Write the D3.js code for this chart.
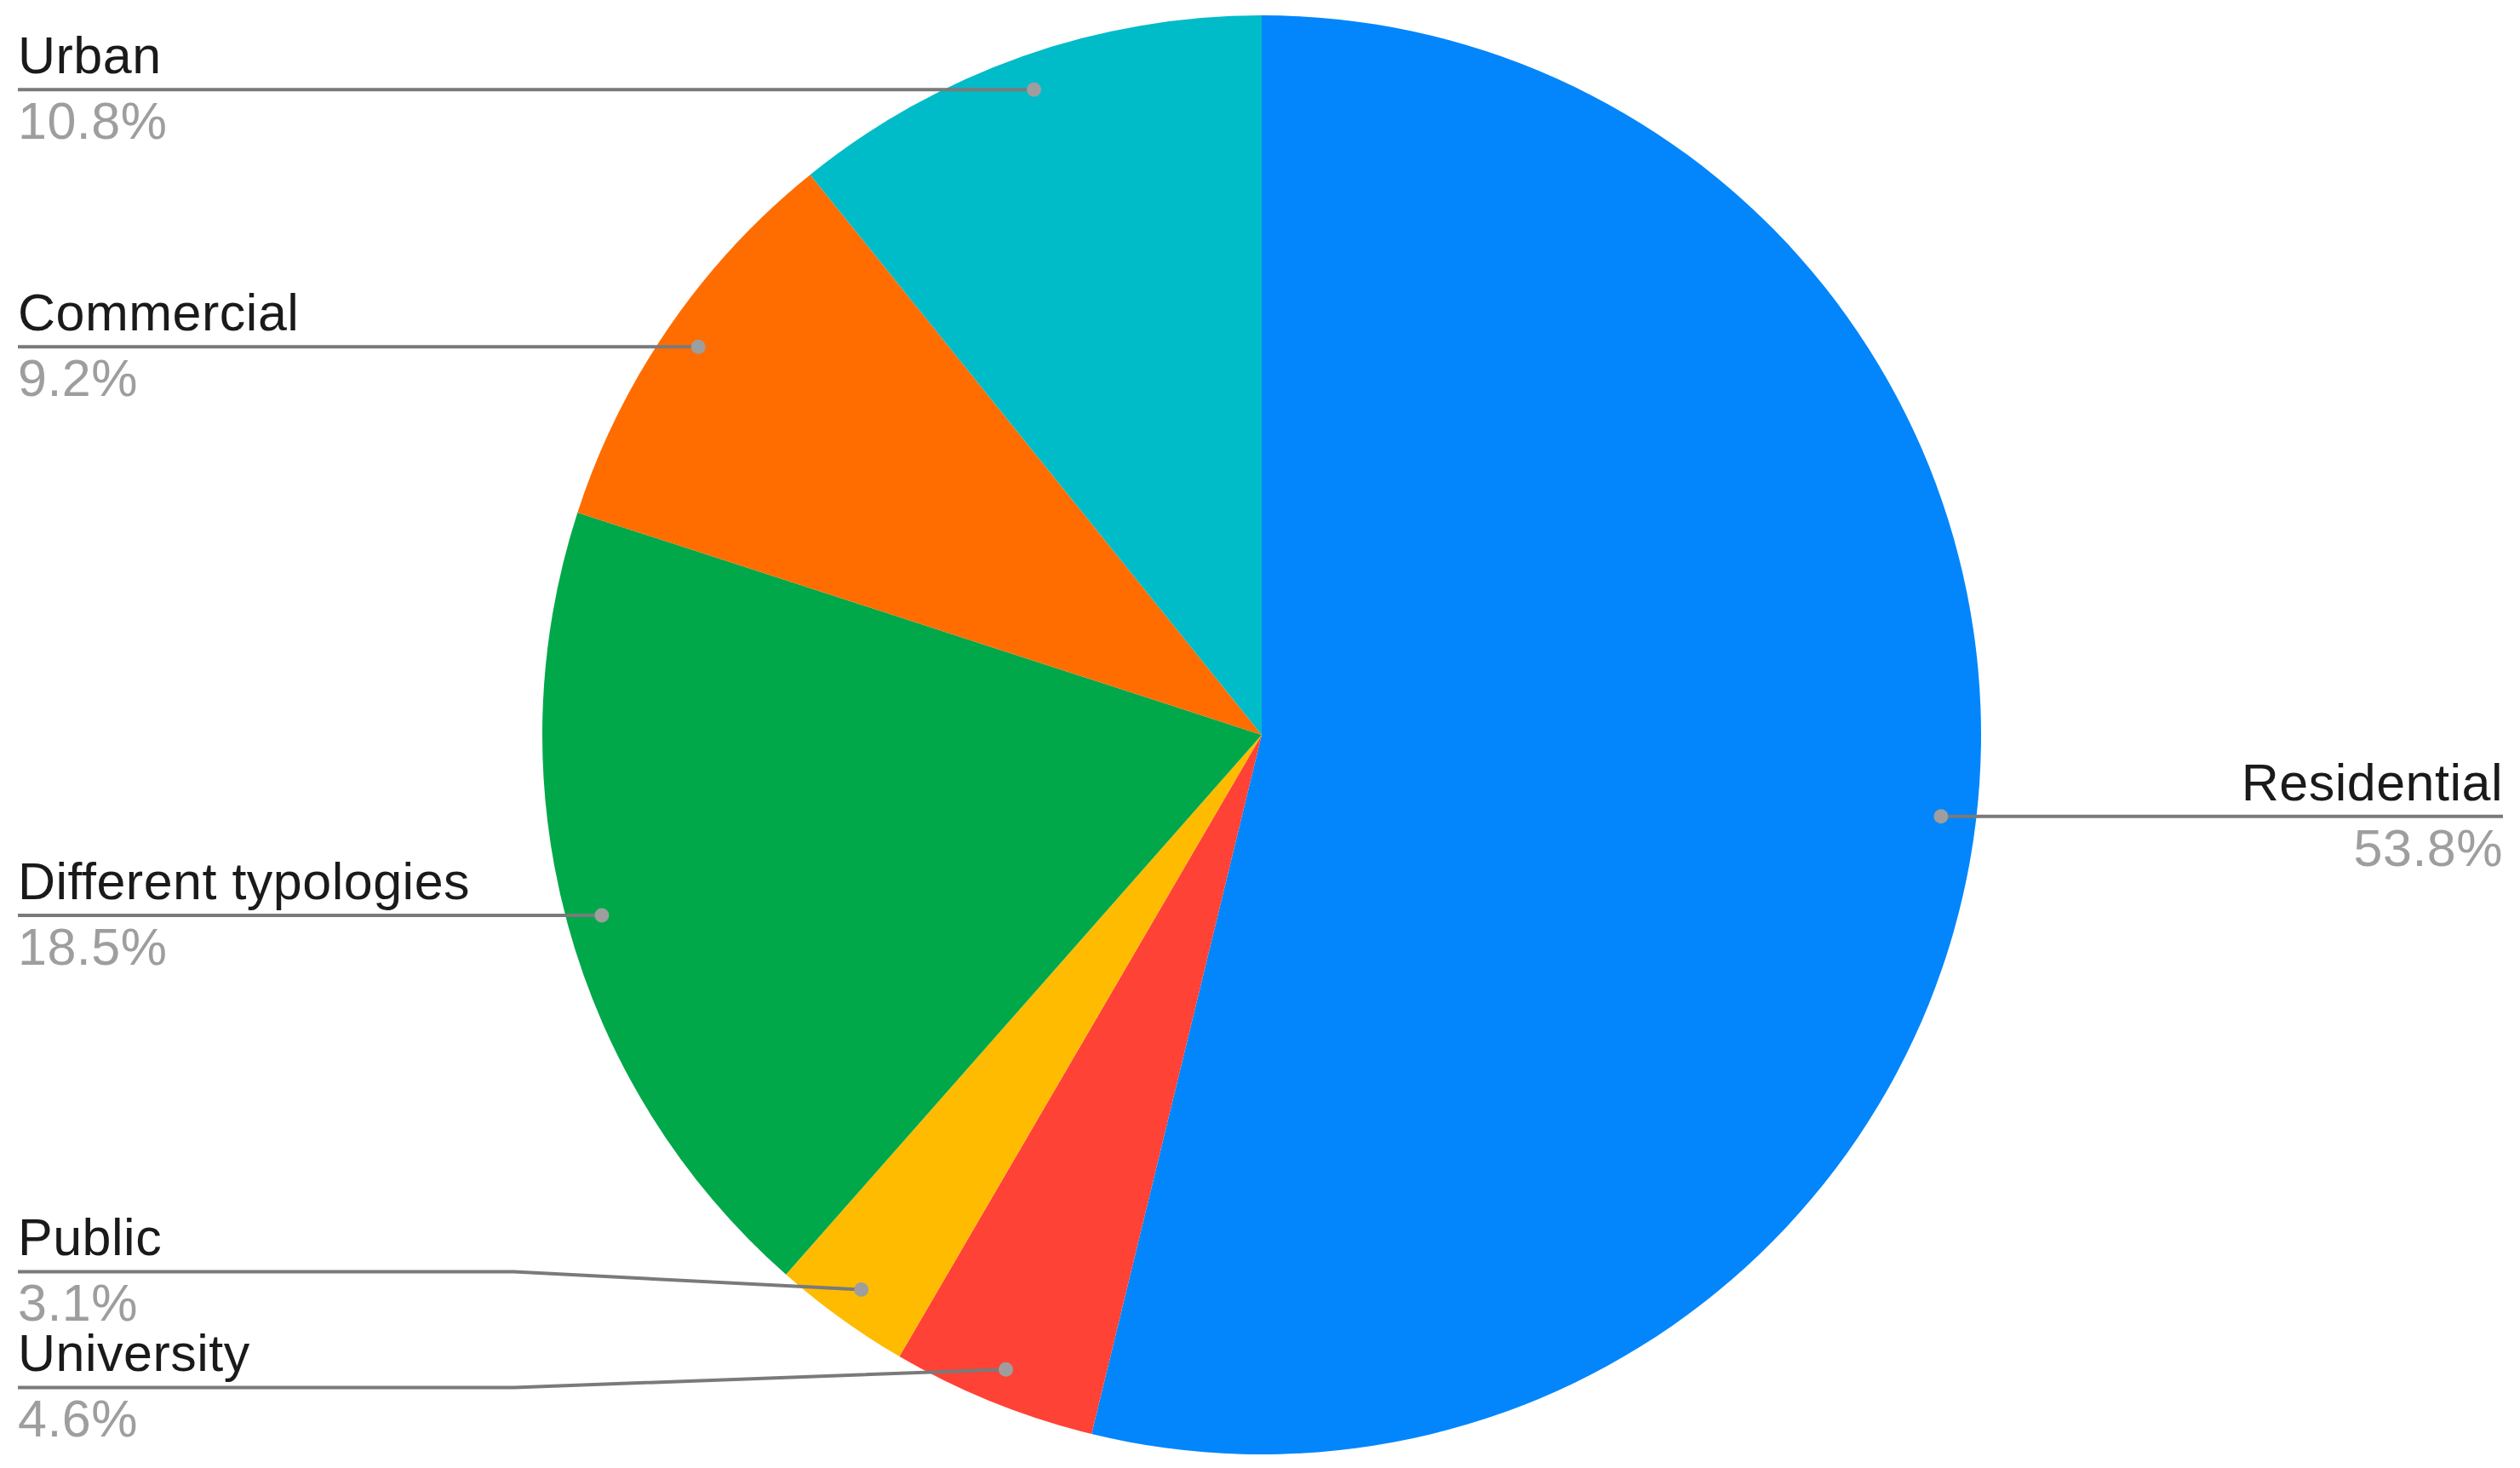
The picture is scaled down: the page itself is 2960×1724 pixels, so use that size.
<!DOCTYPE html>
<html lang="en">
<head>
    <meta charset="UTF-8">
    <title>Typologies pie</title>
    <script src="https://d3js.org/d3.v7.min.js"></script>
    <style>
        body {
            margin: 0;
            padding: 0;
            background-color: white;
        }
        svg {
            display: block;
        }
        .label-name {
            font-family: 'Liberation Sans', Arial, sans-serif;
            fill: #1a1a1a;
            letter-spacing: 0.5px;
        }
        .label-pct {
            font-family: 'Liberation Sans', Arial, sans-serif;
            fill: #9e9e9e;
            letter-spacing: 0.5px;
        }
    </style>
</head>
<body>
    <div id="chart"></div>

    <script type="text/javascript">
        // data, in clockwise order from 12 o'clock
        const categories = ["Residential", "University", "Public", "Different typologies", "Commercial", "Urban"];
        const shares = [53.8, 4.6, 3.1, 18.5, 9.2, 10.8];
        const colors = ["#0386fb", "#ff4236", "#ffbb00", "#00a84a", "#ff6d00", "#00bbc8"];

        const width = 2960;
        const height = 1724;
        const cx = 1482, cy = 863;
        const radius = 845;
        const fontSize = 61;
        const minGap = 136;   // vertical room one label block needs
        const leftX = 21, rightX = 2940, bendX = 604;

        const svg = d3.select("#chart").append("svg")
            .attr("width", width)
            .attr("height", height);

        const pie = d3.pie().sort(null).value(d => d.value);
        const arcs = pie(categories.map((c, i) => ({ name: c, value: shares[i], color: colors[i] })));

        const arc = d3.arc().innerRadius(0).outerRadius(radius);

        const g = svg.append("g").attr("transform", `translate(${cx},${cy})`);

        g.selectAll("path.slice")
            .data(arcs)
            .join("path")
            .attr("class", "slice")
            .attr("d", arc)
            .attr("fill", d => d.data.color);

        // label anchors sit near the rim, on each slice's mid angle
        const labels = arcs.map(d => {
            const mid = (d.startAngle + d.endAngle) / 2;
            const r = radius * 0.951;
            const dx = cx + Math.sin(mid) * r;
            const dy = cy - Math.cos(mid) * r;
            return { d: d, dotX: dx, dotY: dy, y: dy, side: Math.sin(mid) >= 0 ? "right" : "left" };
        });

        // push overlapping labels apart, around their mean
        ["left", "right"].forEach(side => {
            const group = labels.filter(l => l.side === side).sort((a, b) => a.y - b.y);
            let clusters = group.map(l => ({ items: [l], y: l.y }));
            let merged = true;
            while (merged) {
                merged = false;
                for (let i = 0; i < clusters.length - 1; i++) {
                    const a = clusters[i], b = clusters[i + 1];
                    const aBottom = a.y + (a.items.length - 1) * minGap / 2;
                    const bTop = b.y - (b.items.length - 1) * minGap / 2;
                    if (bTop - aBottom < minGap) {
                        const items = a.items.concat(b.items);
                        const mean = d3.mean(items, l => l.dotY);
                        clusters.splice(i, 2, { items: items, y: mean });
                        merged = true;
                        break;
                    }
                }
            }
            clusters.forEach(c => {
                const n = c.items.length;
                c.items.forEach((l, k) => {
                    l.y = c.y + (k - (n - 1) / 2) * minGap;
                });
            });
        });

        const leaders = svg.append("g");
        labels.forEach(l => {
            let pts;
            if (l.side === "left") {
                pts = [[leftX, l.y], [bendX, l.y], [l.dotX, l.dotY]];
            } else {
                pts = [[rightX, l.y], [width - bendX, l.y], [l.dotX, l.dotY]];
            }
            if (Math.abs(l.y - l.dotY) < 0.5) pts = [pts[0], pts[2]];
            leaders.append("path")
                .attr("d", d3.line()(pts))
                .attr("fill", "none")
                .attr("stroke", "#7a7a7a")
                .attr("stroke-width", 4);
            leaders.append("circle")
                .attr("cx", l.dotX)
                .attr("cy", l.dotY)
                .attr("r", 8.5)
                .attr("fill", "#9e9e9e");

            const tx = l.side === "left" ? leftX : rightX;
            const anchor = l.side === "left" ? "start" : "end";
            leaders.append("text")
                .attr("class", "label-name")
                .attr("x", tx)
                .attr("y", l.y - 19)
                .attr("text-anchor", anchor)
                .attr("font-size", fontSize)
                .text(l.d.data.name);
            leaders.append("text")
                .attr("class", "label-pct")
                .attr("x", tx)
                .attr("y", l.y + 58)
                .attr("text-anchor", anchor)
                .attr("font-size", fontSize)
                .text(l.d.data.value.toFixed(1) + "%");
        });
    </script>
</body>
</html>
